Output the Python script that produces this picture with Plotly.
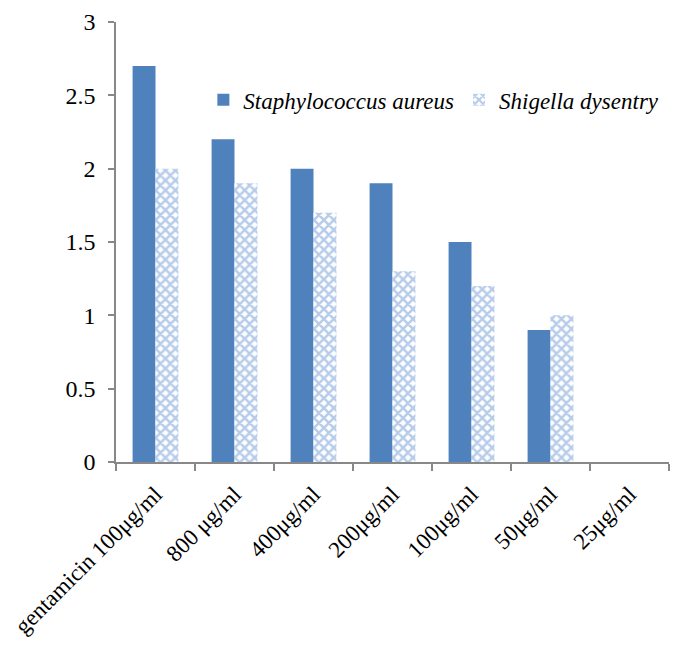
import plotly.graph_objects as go

categories = ["gentamicin 100μg/ml", "800 μg/ml", "400μg/ml", "200μg/ml",
              "100μg/ml", "50μg/ml", "25μg/ml"]
staph_aureus = [2.7, 2.2, 2.0, 1.9, 1.5, 0.9, 0]
shigella_dys = [2.0, 1.9, 1.7, 1.3, 1.2, 1.0, 0]
y_ticks = [0, 0.5, 1, 1.5, 2, 2.5, 3]

axis_grey = "#888888"
serif = "Liberation Serif"

fig = go.Figure()
fig.add_trace(go.Bar(
    name="<i>Staphylococcus aureus</i>",
    x=categories, y=staph_aureus,
    marker=dict(color="#4F81BD", line=dict(width=0)),
))
fig.add_trace(go.Bar(
    name="<i>Shigella dysentry</i>",
    x=categories, y=shigella_dys,
    marker=dict(
        color="white",
        line=dict(width=0),
        pattern=dict(shape="x", fgcolor="#6E99D5", bgcolor="white",
                     size=7, solidity=0.6),
    ),
))

fig.update_layout(
    width=673, height=648,
    margin=dict(l=116, r=4, t=22, b=186),
    paper_bgcolor="white", plot_bgcolor="white",
    barmode="group", bargap=0.42, bargroupgap=0,
    font=dict(family=serif, size=24, color="black"),
    showlegend=True,
    legend=dict(
        orientation="h", x=0.158, y=0.823, xanchor="left", yanchor="middle",
        font=dict(family=serif, size=23, color="black"),
        bgcolor="rgba(0,0,0,0)", itemwidth=30, tracegroupgap=0,
    ),
    xaxis=dict(
        showline=True, linecolor=axis_grey, linewidth=1.5,
        ticks="outside", tickcolor=axis_grey, ticklen=7, tickwidth=1.5,
        tickson="boundaries", tickangle=-45, ticklabelstandoff=8,
        tickfont=dict(family=serif, size=23, color="black"),
        showgrid=False, zeroline=False,
    ),
    yaxis=dict(
        range=[0, 3], tickvals=y_ticks,
        ticktext=[f"{v:g}" for v in y_ticks],
        showline=True, linecolor=axis_grey, linewidth=1.5,
        ticks="outside", tickcolor=axis_grey, ticklen=6, tickwidth=1.5,
        ticklabelstandoff=8,
        tickfont=dict(family=serif, size=24, color="black"),
        showgrid=False, zeroline=False,
    ),
)

fig.write_html("out.html")
